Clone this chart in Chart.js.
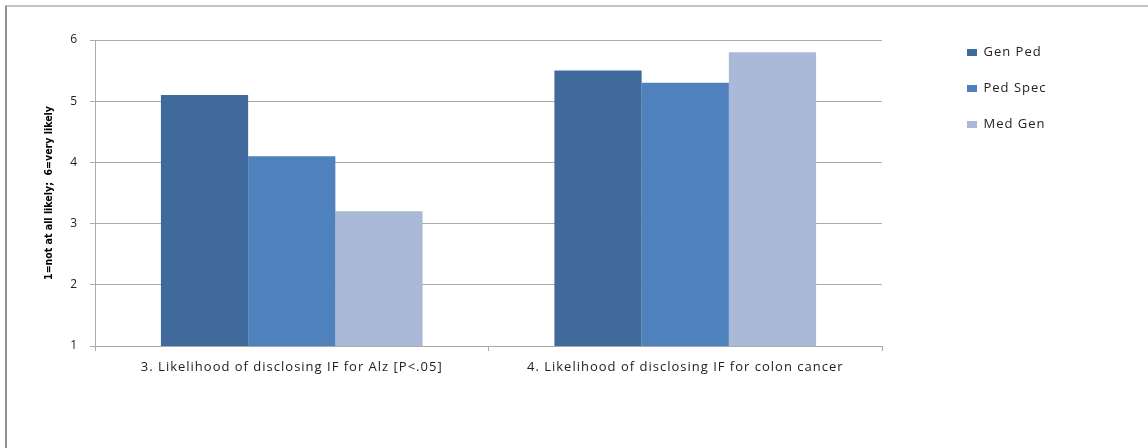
<!DOCTYPE html>
<html>
<head>
<meta charset="utf-8">
<script src="https://cdn.jsdelivr.net/npm/chart.js@4.4.1/dist/chart.umd.min.js"></script>
<style>
  html, body { margin: 0; padding: 0; background: #ffffff; overflow: hidden; }
  #wrap { position: relative; width: 1148px; height: 448px; overflow: hidden; }
  #frame { position: absolute; left: 5px; top: 5px; width: 1400px; height: 700px;
           border-left: 2px solid #8f8f8f; border-top: 2px solid #c2c2c2; }
  canvas { position: absolute; left: 0; top: 0; }
</style>
</head>
<body>
<div id="wrap">
  <div id="frame"></div>
  <canvas id="c" width="1148" height="448"></canvas>
</div>
<script>
// Survey items (categories) and mean ratings per respondent group
const categories = [
  '3. Likelihood of disclosing IF for Alz [P<.05]',
  '4. Likelihood of disclosing IF for colon cancer'
];
const seriesNames = ['Gen Ped', 'Ped Spec', 'Med Gen'];
const genPed  = [5.1, 5.5];
const pedSpec = [4.1, 5.3];
const medGen  = [3.2, 5.8];
const yTicks  = [1, 2, 3, 4, 5, 6];
const yTitle  = '1=not at all likely;  6=very likely';

const seriesColors = ['#406a9b', '#4f81bd', '#aab9d7'];
const gridColor = '#ababab';
const textColor = '#222222';

// Wrap a draw method so its text is drawn with extra tracking
function withTracking(obj, method, spacing) {
  if (!obj || obj['__tracked_' + method]) return;
  const orig = obj[method];
  obj[method] = function (...args) {
    const ctx = this.ctx;
    ctx.save();
    ctx.letterSpacing = spacing;
    orig.apply(this, args);
    ctx.restore();
  };
  obj['__tracked_' + method] = true;
}

// Fixed legend column width so the plot area stays put; spaced-out label text
const layoutTweaks = {
  id: 'layoutTweaks',
  beforeLayout(chart) {
    const lg = chart.legend;
    if (lg && !lg.__fixedWidth) {
      const fit = lg.fit;
      lg.fit = function () { fit.call(this); this.width = 150; };
      lg.__fixedWidth = true;
    }
    withTracking(lg, 'draw', '1px');
  },
  afterLayout(chart) {
    withTracking(chart.scales.x, 'drawLabels', '1px');
  }
};

new Chart(document.getElementById('c'), {
  type: 'bar',
  data: {
    labels: categories,
    datasets: [genPed, pedSpec, medGen].map((vals, i) => ({
      label: seriesNames[i],
      data: vals,
      backgroundColor: seriesColors[i],
      borderWidth: 0,
      xAxisID: 'x',
      yAxisID: 'y',
      categoryPercentage: 0.665,
      barPercentage: 1.0
    }))
  },
  options: {
    responsive: false,
    devicePixelRatio: 1,
    animation: false,
    layout: { padding: { left: 38, top: 23, right: 54, bottom: 0 } },
    plugins: {
      tooltip: { enabled: false },
      legend: {
        position: 'right',
        align: 'start',
        labels: {
          boxWidth: 10,
          boxHeight: 7,
          padding: 23,
          color: textColor,
          font: { family: "'Open Sans', sans-serif", size: 13 }
        }
      }
    },
    scales: {
      x: {
        type: 'category',
        position: 'bottom',
        grid: { display: true, offset: true, drawOnChartArea: false, drawTicks: true,
                tickLength: 5, color: gridColor },
        border: { display: true, color: gridColor },
        ticks: { color: textColor, padding: 8, maxRotation: 0,
                 font: { family: "'Open Sans', sans-serif", size: 13 } },
        afterFit(s) { s.height = 102; }
      },
      x2: {
        type: 'linear',
        position: 'top',
        display: true,
        grid: { display: false },
        border: { display: false },
        ticks: { display: false },
        afterFit(s) { s.height = 17; }
      },
      y: {
        type: 'linear',
        position: 'left',
        min: yTicks[0],
        max: yTicks[yTicks.length - 1],
        ticks: { stepSize: 1, color: textColor, padding: 13,
                 font: { family: "'Open Sans', sans-serif", size: 12 } },
        grid: { color: gridColor, tickLength: 5, drawTicks: true },
        border: { display: true, color: gridColor },
        title: {
          display: true,
          text: yTitle,
          color: '#000000',
          padding: { top: 5, bottom: 4 },
          font: { family: "'Liberation Sans Narrow', 'DejaVu Sans Condensed', sans-serif",
                  size: 10.5, weight: 'bold' }
        },
        afterFit(s) { s.width = 57; }
      },
      y2: {
        type: 'linear',
        position: 'right',
        display: true,
        grid: { display: false },
        border: { display: false },
        ticks: { display: false },
        afterFit(s) { s.width = 62; }
      }
    }
  },
  plugins: [layoutTweaks]
});
</script>
</body>
</html>
